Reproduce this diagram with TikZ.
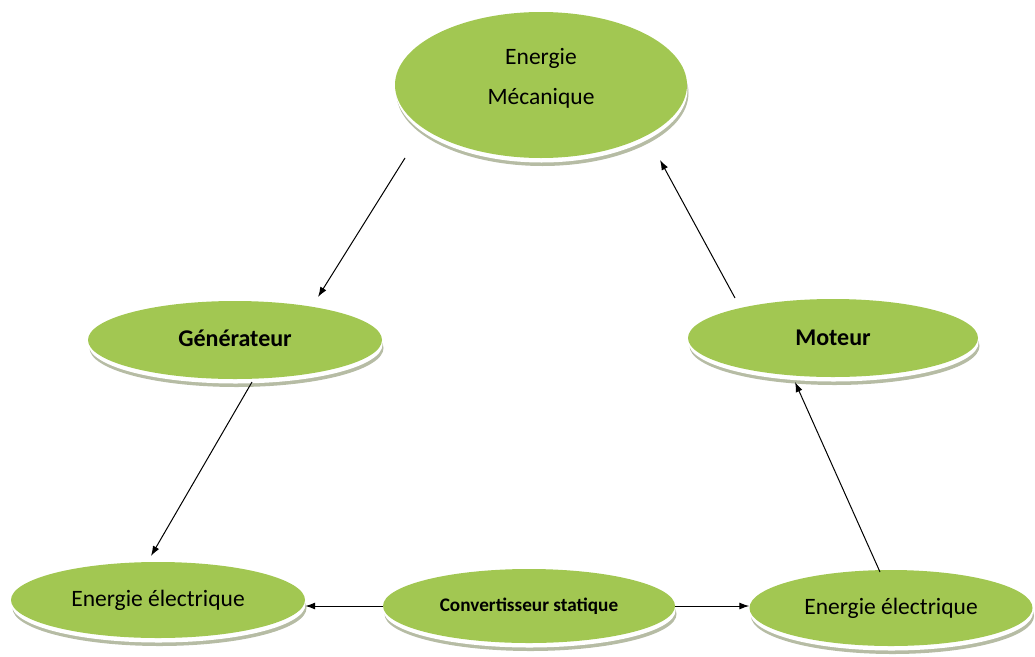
\documentclass[tikz,border=0pt]{standalone}
\usepackage{fontspec}
\setmainfont{Carlito}
\usetikzlibrary{shapes.geometric,arrows.meta}
\definecolor{leaf}{RGB}{162,199,82}
\definecolor{shade}{RGB}{182,188,164}
\tikzset{
  blob/.style={ellipse, inner sep=0pt, fill=leaf, text=black,
    preaction={fill=shade, transform canvas={shift={(1.5pt,-8pt)}}},
    preaction={fill=white, transform canvas={shift={(0.5pt,-4.5pt)}}}},
  arr/.style={-{Latex[length=10pt,width=7pt]}, line width=1pt, black}
}
\begin{document}
\begin{tikzpicture}[x=1pt,y=-1pt]
\useasboundingbox (0,0) rectangle (1035,656);
\node[blob, minimum width=292pt, minimum height=146pt, font=\fontsize{23.5}{40}\selectfont, align=center, text depth=17pt] (mec) at (541,85) {Energie\\Mécanique};
\node[blob, minimum width=294pt, minimum height=78pt, font=\fontsize{24}{28}\selectfont\bfseries] (gen) at (235,340) {\raisebox{3pt}{Générateur}};
\node[blob, minimum width=290pt, minimum height=78pt, font=\fontsize{24}{28}\selectfont\bfseries] (mot) at (833,338) {\raisebox{1pt}{Moteur}};
\node[blob, minimum width=294pt, minimum height=76pt, font=\fontsize{23.5}{28}\selectfont] (eel) at (158,600) {\raisebox{3pt}{Energie électrique}};
\node[blob, minimum width=292pt, minimum height=74pt, font=\fontsize{19.2}{23}\selectfont\bfseries] (conv) at (529,606) {\raisebox{2pt}{Convertisseur statique}};
\node[blob, minimum width=283pt, minimum height=76pt, font=\fontsize{23.5}{28}\selectfont] (eer) at (891,608) {\raisebox{1pt}{Energie électrique}};
% free ends of connectors
\coordinate (a1s) at (405,158); \coordinate (a1e) at (318,297);
\coordinate (a2s) at (252,382); \coordinate (a2e) at (151,556);
\coordinate (a3s) at (880,572); \coordinate (a3e) at (795,382);
\coordinate (a4s) at (735,298); \coordinate (a4e) at (660,160);
\draw[arr] (a1s) -- (a1e);
\draw[arr] (a2s) -- (a2e);
\draw[arr] (a3s) -- (a3e);
\draw[arr] (a4s) -- (a4e);
\draw[arr] (conv.west) -- (conv.west -| eel.east);
\draw[arr] (conv.east) -- (conv.east -| eer.west);
\end{tikzpicture}
\end{document}
